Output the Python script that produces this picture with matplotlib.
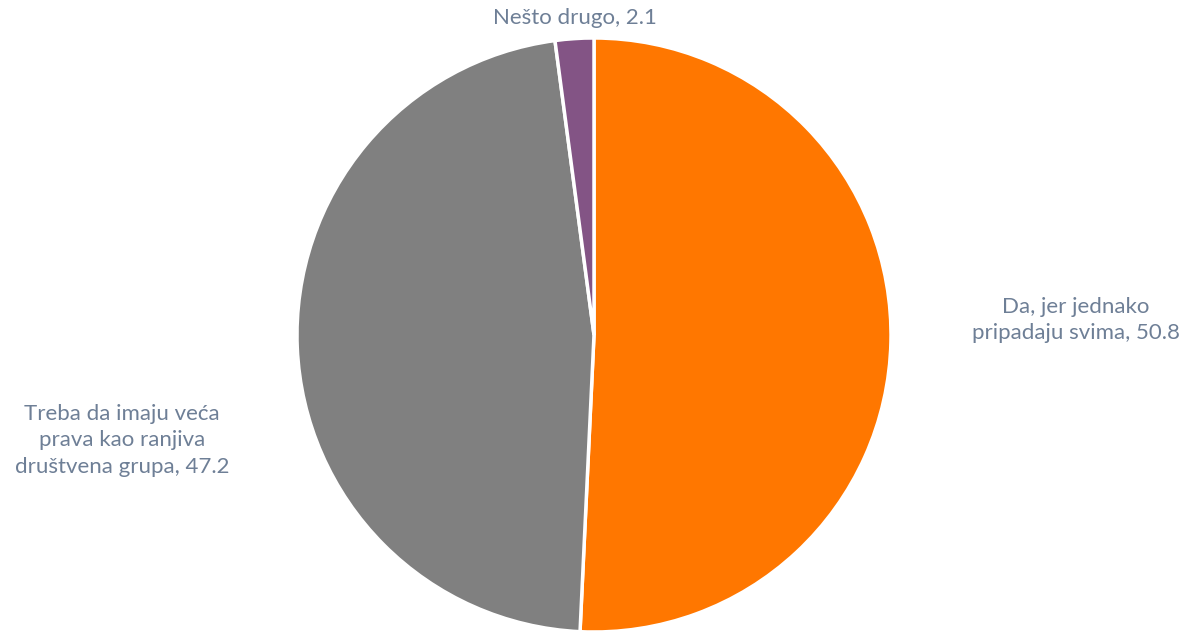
import matplotlib.pyplot as plt

categories = ['Da, jer jednako\npripadaju svima', 'Treba da imaju veća\nprava kao ranjiva\ndruštvena grupa', 'Nešto drugo']
values = [50.8, 47.2, 2.1]
colors = ['#FF7700', '#808080', '#835485']

# label anchors in pie-radius units
label_pos = [(1.623, 0.05), (-1.589, -0.354), (-0.064, 1.067)]

fig = plt.figure(figsize=(11.86, 6.31), dpi=100)
cx, cy, r = 594, 335, 297
ax = fig.add_axes([(cx - r) / 1186, (631 - cy - r) / 631, 2 * r / 1186, 2 * r / 631])

ax.pie(values, colors=colors, startangle=90, counterclock=False, radius=1,
       wedgeprops=dict(edgecolor='white', linewidth=2.5))
ax.set_xlim(-1, 1)
ax.set_ylim(-1, 1)
ax.set_aspect('equal')
ax.axis('off')

for cat, val, (x, y) in zip(categories, values, label_pos):
    ax.text(x, y, f'{cat}, {val}', ha='center', va='center', fontsize=16,
            color='#6E7F96', family='Lato', linespacing=1.4, clip_on=False)

plt.savefig('out.png', dpi=100)
